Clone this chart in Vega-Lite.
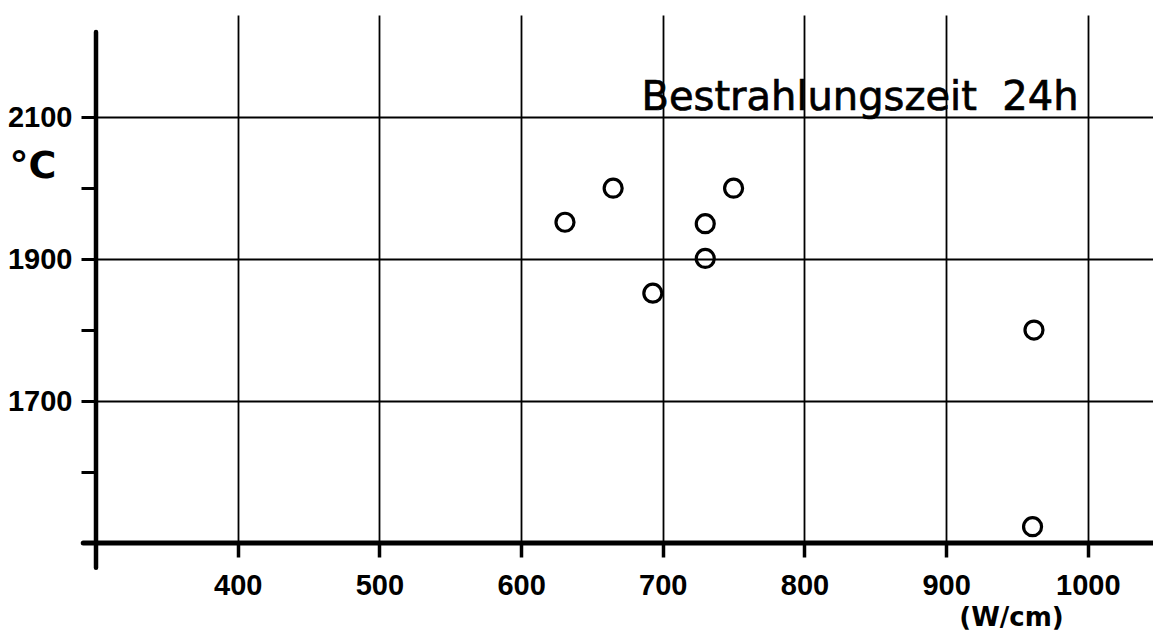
{
  "$schema": "https://vega.github.io/schema/vega-lite/v6.json",
  "width": 1057,
  "height": 528,
  "autosize": {"type": "none"},
  "padding": {"left": 96, "top": 15, "right": 0, "bottom": 89},
  "background": "white",
  "config": {"view": {"stroke": null}},
  "datasets": {
    "messwerte": [
      {"leistung": 631, "temp": 1952},
      {"leistung": 665, "temp": 2000},
      {"leistung": 693, "temp": 1852},
      {"leistung": 730, "temp": 1950},
      {"leistung": 730, "temp": 1901},
      {"leistung": 750, "temp": 2000},
      {"leistung": 962, "temp": 1800},
      {"leistung": 961, "temp": 1523}
    ],
    "beschriftung": [
      {"text": "Bestrahlungszeit\u00a0\u00a024h", "leistung": 685, "temp": 2110}
    ],
    "leer": [{}]
  },
  "layer": [
    {
      "data": {"name": "messwerte"},
      "mark": {"type": "point", "shape": "circle", "filled": false, "size": 324, "strokeWidth": 3.2, "color": "black", "opacity": 1},
      "encoding": {
        "x": {
          "field": "leistung", "type": "quantitative",
          "scale": {"domain": [300, 1046], "nice": false, "zero": false},
          "axis": {
            "values": [400, 500, 600, 700, 800, 900, 1000],
            "format": "d",
            "domain": false,
            "ticks": true, "tickSize": 14, "tickWidth": 3.5, "tickColor": "black",
            "labelFont": "Liberation Sans", "labelFontSize": 29, "labelFontWeight": "bold", "labelColor": "black",
            "labelPadding": 14, "labelFlush": false,
            "grid": true, "gridColor": "black", "gridWidth": 1.8, "gridOpacity": 1,
            "title": "(W/cm)", "titleFont": "DejaVu Sans", "titleFontSize": 26, "titleFontWeight": "bold", "titleColor": "black",
            "titleAnchor": null, "titleAlign": "center", "titleBaseline": "middle", "titleX": 915, "titleY": 74
          }
        },
        "y": {
          "field": "temp", "type": "quantitative",
          "scale": {"domain": [1500, 2244], "nice": false, "zero": false},
          "axis": {
            "values": [1600, 1700, 1800, 1900, 2000, 2100],
            "format": "d",
            "domain": false,
            "ticks": true, "tickSize": 15, "tickWidth": 3, "tickColor": "black",
            "labelExpr": "datum.value % 200 === 100 ? datum.label : ''",
            "labelFont": "Liberation Sans", "labelFontSize": 29, "labelFontWeight": "bold", "labelColor": "black",
            "labelPadding": 9, "labelFlush": false,
            "grid": true, "gridColor": "black", "gridWidth": 1.8,
            "gridOpacity": {"condition": {"test": "datum.value % 200 === 100", "value": 1}, "value": 0},
            "title": "°C", "titleFont": "DejaVu Sans", "titleFontSize": 38, "titleFontWeight": "bold", "titleColor": "black",
            "titleAngle": 0, "titleAnchor": null, "titleAlign": "left", "titleBaseline": "middle", "titleX": -87, "titleY": 151
          }
        }
      }
    },
    {
      "data": {"name": "leer"},
      "mark": {"type": "rule", "color": "black", "strokeWidth": 4.5, "strokeCap": "round"},
      "encoding": {
        "x": {"datum": 300},
        "y": {"datum": 1465},
        "y2": {"datum": 2220}
      }
    },
    {
      "data": {"name": "leer"},
      "mark": {"type": "rule", "color": "black", "strokeWidth": 5, "strokeCap": "round"},
      "encoding": {
        "y": {"datum": 1500},
        "x": {"datum": 291},
        "x2": {"datum": 1046}
      }
    },
    {
      "data": {"name": "beschriftung"},
      "mark": {"type": "text", "font": "DejaVu Sans", "fontSize": 40, "align": "left", "baseline": "alphabetic", "color": "black", "stroke": "black", "strokeWidth": 0.7},
      "encoding": {
        "x": {"field": "leistung", "type": "quantitative"},
        "y": {"field": "temp", "type": "quantitative"},
        "text": {"field": "text"}
      }
    }
  ]
}
